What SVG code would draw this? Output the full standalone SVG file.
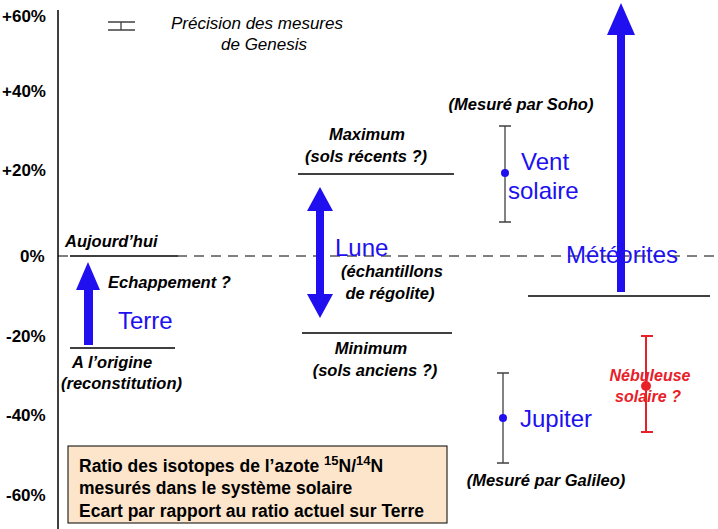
<svg xmlns="http://www.w3.org/2000/svg" width="718" height="529" viewBox="0 0 718 529">
<style>
text{font-family:"Liberation Sans",Arial,sans-serif}
.ax{font-weight:bold;font-size:17px;fill:#000}
.bi{font-weight:bold;font-style:italic;font-size:16.5px;fill:#000}
.bl{font-size:24px;fill:#2010f0}
.lvl{stroke:#404040;stroke-width:2}
.eb{stroke:#404040;stroke-width:1.3;fill:none}
.arr{fill:#2010f0}
.cap{font-weight:bold;font-size:17.5px}
</style>
<rect width="718" height="529" fill="#fff"/>
<g id="axis">
<line x1="58" y1="10" x2="58" y2="529" stroke="#404040" stroke-width="2"/>
<line x1="58" y1="256" x2="718" y2="256" stroke="#000" stroke-width="1" stroke-dasharray="10,7"/>
<text class="ax" x="2" y="22">+60%</text>
<text class="ax" x="2" y="97">+40%</text>
<text class="ax" x="2" y="176">+20%</text>
<text class="ax" x="20" y="262">0%</text>
<text class="ax" x="6" y="342">-20%</text>
<text class="ax" x="6" y="421">-40%</text>
<text class="ax" x="6" y="501">-60%</text>
</g>
<g id="legend-precision">
<path class="eb" d="M108 22H135M108 30H135M121 22V30"/>
<text x="171" y="29" font-style="italic" font-size="17">Précision des mesures</text>
<text x="264" y="50" font-style="italic" font-size="17" text-anchor="middle">de Genesis</text>
</g>
<g id="terre">
<line class="lvl" x1="70" y1="256" x2="178" y2="256"/>
<line class="lvl" x1="70" y1="348" x2="175" y2="348"/>
<text class="bi" x="65" y="247">Aujourd’hui</text>
<text class="bi" x="108" y="288">Echappement ?</text>
<text class="bi" x="72" y="368">A l’origine</text>
<text class="bi" x="61" y="389">(reconstitution)</text>
<polygon class="arr" points="84,345 93,345 93,290 100,290 88,262 76,290 84,290"/>
<text class="bl" x="118" y="329">Terre</text>
</g>
<g id="lune">
<line class="lvl" x1="298" y1="174" x2="454" y2="174"/>
<line class="lvl" x1="302" y1="333" x2="452" y2="333"/>
<text class="bi" x="367" y="140" text-anchor="middle">Maximum</text>
<text class="bi" x="366" y="162" text-anchor="middle">(sols récents ?)</text>
<text class="bi" x="371" y="354" text-anchor="middle">Minimum</text>
<text class="bi" x="375" y="376" text-anchor="middle">(sols anciens ?)</text>
<polygon class="arr" points="320,187 333,211 324,211 324,294 333,294 320,318 307,294 316,294 316,211 307,211"/>
<text class="bl" x="335" y="256">Lune</text>
<text class="bi" x="392" y="277" text-anchor="middle">(échantillons</text>
<text class="bi" x="390" y="299" text-anchor="middle">de régolite)</text>
</g>
<g id="vent">
<path class="eb" d="M499 126H511M499 222H511M505 126V222"/>
<circle cx="505" cy="173" r="4" fill="#2010f0"/>
<text class="bi" x="521" y="110" text-anchor="middle">(Mesuré par Soho)</text>
<text class="bl" x="521" y="170">Vent</text>
<text class="bl" x="508" y="199">solaire</text>
</g>
<g id="meteorites">
<line class="lvl" x1="528" y1="296" x2="710" y2="296"/>
<polygon class="arr" points="617,292 625,292 625,35 635,35 621,3 607,35 617,35"/>
<text class="bl" x="566" y="263">Météorites</text>
</g>
<g id="jupiter">
<path class="eb" d="M497 373H509M497 463H509M503 373V463"/>
<circle cx="503" cy="418" r="4" fill="#2010f0"/>
<text class="bl" x="520" y="427">Jupiter</text>
<text class="bi" x="546" y="486" text-anchor="middle">(Mesuré par Galileo)</text>
</g>
<g id="nebuleuse">
<path d="M641 336H653M641 432H653M646 336V432" stroke="#e8202a" stroke-width="2" fill="none"/>
<circle cx="646" cy="386" r="5" fill="#e8202a"/>
<text x="650" y="381" font-weight="bold" font-style="italic" font-size="16" fill="#e8202a" text-anchor="middle">Nébuleuse</text>
<text x="648" y="402" font-weight="bold" font-style="italic" font-size="16" fill="#e8202a" text-anchor="middle">solaire ?</text>
</g>
<g id="caption">
<rect x="68" y="446" width="379" height="77" fill="#fde5cc" stroke="#000" stroke-width="1"/>
<text class="cap" x="79" y="472">Ratio des isotopes de l’azote <tspan font-size="13" dy="-7">15</tspan><tspan dy="7">N/</tspan><tspan font-size="13" dy="-7">14</tspan><tspan dy="7">N</tspan></text>
<text class="cap" x="79" y="494">mesurés dans le système solaire</text>
<text class="cap" x="79" y="517">Ecart par rapport au ratio actuel sur Terre</text>
</g>
</svg>
